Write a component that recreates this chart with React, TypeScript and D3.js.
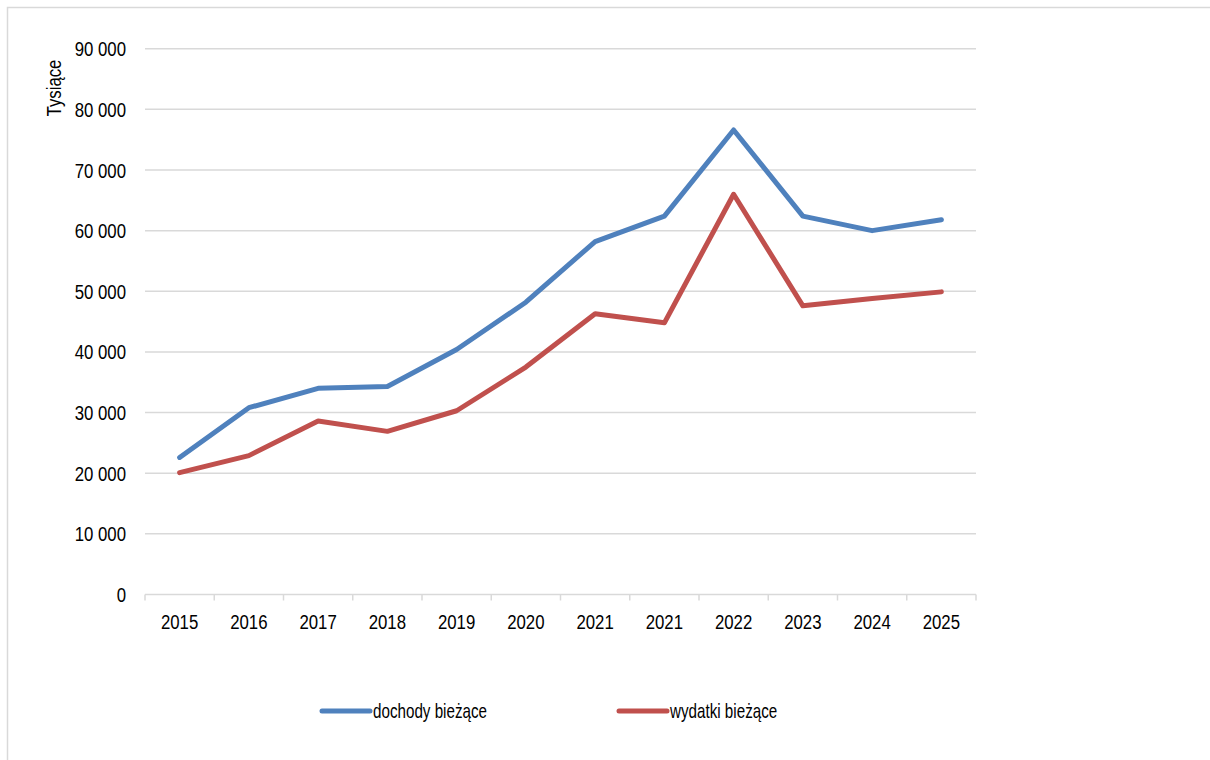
import React, { useEffect, useRef } from "react";
import * as d3 from "d3";

// dane (tys.)
const years = ["2015", "2016", "2017", "2018", "2019", "2020", "2021", "2021", "2022", "2023", "2024", "2025"];
const dochody = [22600, 30800, 34000, 34300, 40400, 48200, 58200, 62400, 76600, 62400, 60000, 61800];
const wydatki = [20100, 22900, 28600, 26900, 30300, 37500, 46300, 44800, 66000, 47600, 48800, 49900];
const yTicks = [0, 10000, 20000, 30000, 40000, 50000, 60000, 70000, 80000, 90000];

const seriesNames = ["dochody bieżące", "wydatki bieżące"];
const seriesColors = ["#4f81bd", "#c0504d"];

const W = 1210;
const H = 760;
const FONT = "'Liberation Sans', Arial, sans-serif";
// czcionka jak Arial Narrow - zwężamy poziomo
const NARROW = 0.8;

export default function App() {
	const svgRef = useRef<SVGSVGElement | null>(null);

	useEffect(() => {
		if (!svgRef.current) return;
		const svg = d3.select(svgRef.current);
		svg.selectAll("*").remove();

		const margin = { top: 48.7, left: 145, right: W - 976, bottom: H - 594.5 };
		const innerWidth = W - margin.left - margin.right;
		const innerHeight = H - margin.top - margin.bottom;

		// ramka
		svg.append("rect")
			.attr("x", 7.5)
			.attr("y", 7.5)
			.attr("width", 1400)
			.attr("height", 1000)
			.attr("fill", "none")
			.attr("stroke", "#d9d9d9")
			.attr("stroke-width", 1.5);

		const x = d3.scaleBand<number>()
			.domain(d3.range(years.length))
			.range([0, innerWidth]);

		const y = d3.scaleLinear().domain([0, 90000]).range([innerHeight, 0]);

		const g = svg.append("g").attr("transform", `translate(${margin.left},${margin.top})`);

		// siatka
		g.selectAll(".grid")
			.data(yTicks.filter((t) => t > 0))
			.enter()
			.append("line")
			.attr("x1", 0)
			.attr("x2", innerWidth)
			.attr("y1", (d) => y(d))
			.attr("y2", (d) => y(d))
			.attr("stroke", "#d9d9d9")
			.attr("stroke-width", 1.5);

		// oś Y - etykiety
		g.selectAll(".ylab")
			.data(yTicks)
			.enter()
			.append("text")
			.attr("transform", (d) => `translate(-19,${y(d)}) scale(${NARROW},1)`)
			.attr("dy", "0.36em")
			.attr("text-anchor", "end")
			.attr("font-family", FONT)
			.attr("font-size", 21)
			.attr("fill", "#000")
			.text((d) => d3.format(",")(d).replace(/,/g, " "));

		// oś X
		const xAxis = g.append("g").attr("transform", `translate(0,${innerHeight})`);
		xAxis.append("line")
			.attr("x1", 0)
			.attr("x2", innerWidth)
			.attr("stroke", "#d9d9d9")
			.attr("stroke-width", 1.5);
		xAxis.selectAll(".tick")
			.data(d3.range(years.length + 1))
			.enter()
			.append("line")
			.attr("x1", (i) => i * x.step())
			.attr("x2", (i) => i * x.step())
			.attr("y1", 0)
			.attr("y2", 6)
			.attr("stroke", "#d9d9d9")
			.attr("stroke-width", 1.5);
		xAxis.selectAll(".xlab")
			.data(years)
			.enter()
			.append("text")
			.attr("transform", (_, i) => `translate(${(x(i) || 0) + x.bandwidth() / 2},26.5) scale(${NARROW},1)`)
			.attr("dy", "0.36em")
			.attr("text-anchor", "middle")
			.attr("font-family", FONT)
			.attr("font-size", 21)
			.attr("fill", "#000")
			.text((d) => d);

		// tytuł osi
		svg.append("text")
			.attr("transform", `translate(61,88) rotate(-90) scale(${NARROW},1)`)
			.attr("text-anchor", "middle")
			.attr("font-family", FONT)
			.attr("font-size", 21)
			.attr("fill", "#000")
			.text("Tysiące");

		// linie
		const line = d3.line<number>()
			.x((_, i) => (x(i) || 0) + x.bandwidth() / 2)
			.y((d) => y(d));

		[dochody, wydatki].forEach((s, k) => {
			g.append("path")
				.datum(s)
				.attr("d", line)
				.attr("fill", "none")
				.attr("stroke", seriesColors[k])
				.attr("stroke-width", 5)
				.attr("stroke-linejoin", "round")
				.attr("stroke-linecap", "round");
		});

		// legenda
		const legendX = [322, 619];
		seriesNames.forEach((name, k) => {
			const lg = svg.append("g").attr("transform", `translate(${legendX[k]},711)`);
			lg.append("line")
				.attr("x1", 0)
				.attr("x2", 48)
				.attr("stroke", seriesColors[k])
				.attr("stroke-width", 5)
				.attr("stroke-linecap", "round");
			lg.append("text")
				.attr("transform", "translate(51,0) scale(0.76,1)")
				.attr("dy", "0.36em")
				.attr("font-family", FONT)
				.attr("font-size", 20)
				.attr("fill", "#000")
				.text(name);
		});
	}, []);

	return (
		<svg
			ref={svgRef}
			width={W}
			height={H}
			style={{ position: "absolute", left: 0, top: 0, background: "#fff" }}
		></svg>
	);
}
